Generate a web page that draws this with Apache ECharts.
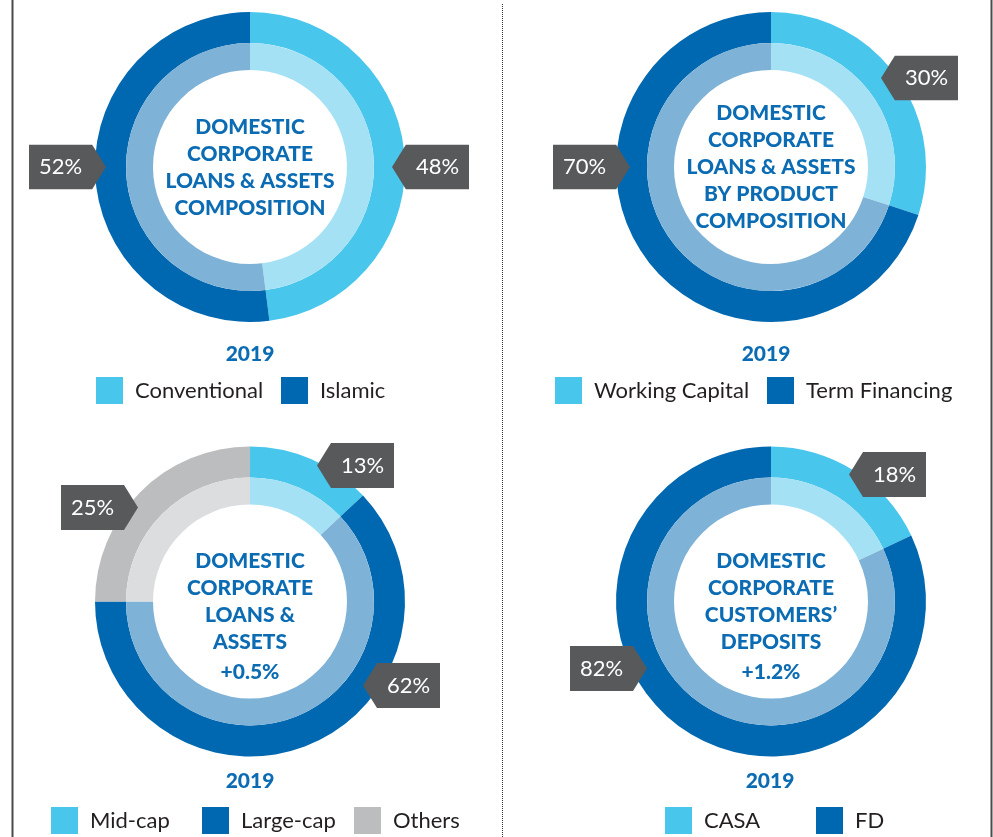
<!DOCTYPE html>
<html>
<head>
<meta charset="utf-8">
<script src="https://cdn.jsdelivr.net/npm/echarts@6/dist/echarts.min.js"></script>
<style>
  html, body { margin: 0; padding: 0; background: #ffffff; }
  #main { width: 993px; height: 837px; }
</style>
</head>
<body>
<div id="main"></div>
<script>
// ---- Data -------------------------------------------------------------
const compositionNames = ['Conventional', 'Islamic'];
const compositionValues = [48, 52];

const productNames = ['Working Capital', 'Term Financing'];
const productValues = [30, 70];

const segmentNames = ['Mid-cap', 'Large-cap', 'Others'];
const segmentValues = [13, 62, 25];

const depositNames = ['CASA', 'FD'];
const depositValues = [18, 82];

const yearLabel = '2019';
const centreTitles = [
  ['DOMESTIC', 'CORPORATE', 'LOANS & ASSETS', 'COMPOSITION'],
  ['DOMESTIC', 'CORPORATE', 'LOANS & ASSETS', 'BY PRODUCT', 'COMPOSITION'],
  ['DOMESTIC', 'CORPORATE', 'LOANS &', 'ASSETS'],
  ['DOMESTIC', 'CORPORATE', 'CUSTOMERS\u2019', 'DEPOSITS']
];
const growthLabels = [null, null, '+0.5%', '+1.2%'];

// ---- Styling ----------------------------------------------------------
const BLUE_TEXT = '#0b6cb4';
const PILL = '#58595b';
const FONT = 'Lato, "Open Sans", sans-serif';
const tones = {
  light: { outer: '#48c6ec', inner: '#a5e1f4' },
  dark:  { outer: '#0068b0', inner: '#7fb2d7' },
  grey:  { outer: '#bbbdbf', inner: '#dcdddf' }
};
const R_INNER = 97, R_MID = 124, R_OUTER = 155;

function pillImage(tipSide) {
  const pts = tipSide === 'left'
    ? '0,22.5 14,0 77,0 77,45 14,45'
    : '0,0 63,0 77,22.5 63,45 0,45';
  const svg = '<svg xmlns="http://www.w3.org/2000/svg" width="77" height="45" viewBox="0 0 77 45" preserveAspectRatio="none">' +
    '<polygon points="' + pts + '" fill="' + PILL + '"/></svg>';
  return 'data:image/svg+xml;charset=utf-8,' + encodeURIComponent(svg);
}
const pillLeft = pillImage('left');
const pillRight = pillImage('right');

// Panel layout: ring centre, slice tones, callout anchors (tip offset from centre), legend slots
const panels = [
  {
    cx: 250, cy: 167, names: compositionNames, values: compositionValues,
    tones: ['light', 'dark'],
    callouts: [{ dx: 142, dy: 0, tip: 'left' }, { dx: -144, dy: 0, tip: 'right' }],
    titleY: 168, growthY: null, yearX: 250, yearY: 354,
    legend: [[96, 377], [281, 377]]
  },
  {
    cx: 771, cy: 167, names: productNames, values: productValues,
    tones: ['light', 'dark'],
    callouts: [{ dx: 110, dy: -89, tip: 'left' }, { dx: -141, dy: 0, tip: 'right' }],
    titleY: 167, growthY: null, yearX: 766, yearY: 354,
    legend: [[555, 377], [767, 377]]
  },
  {
    cx: 250, cy: 601.5, names: segmentNames, values: segmentValues,
    tones: ['light', 'dark', 'grey'],
    callouts: [{ dx: 67, dy: -136, tip: 'left' }, { dx: 113, dy: 84, tip: 'left' }, { dx: -112, dy: -94, tip: 'right' }],
    titleY: 602, growthY: 672, yearX: 250, yearY: 781,
    legend: [[51, 807], [202, 807], [354, 807]]
  },
  {
    cx: 771, cy: 601.5, names: depositNames, values: depositValues,
    tones: ['light', 'dark'],
    callouts: [{ dx: 78, dy: -127, tip: 'left' }, { dx: -124, dy: 67, tip: 'right' }],
    titleY: 602, growthY: 672, yearX: 770, yearY: 781,
    legend: [[665, 807], [816, 807]]
  }
];

// ---- Build options ----------------------------------------------------
const series = [];
const legends = [];
const graphics = [];
const HEAD_FONT = '900 21px ' + FONT;

panels.forEach(function (p, pi) {
  const outerData = p.names.map(function (n, i) {
    const c = p.callouts[i];
    return {
      name: n, value: p.values[i],
      itemStyle: { color: tones[p.tones[i]].outer },
      label: {
        padding: c.tip === 'left' ? [0, 0, 0, 14] : [0, 14, 0, 0],
        backgroundColor: { image: c.tip === 'left' ? pillLeft : pillRight }
      }
    };
  });
  const innerData = p.names.map(function (n, i) {
    return { name: n, value: p.values[i], itemStyle: { color: tones[p.tones[i]].inner } };
  });

  series.push({
    type: 'pie', name: 'outer' + pi,
    center: [p.cx, p.cy], radius: [R_MID, R_OUTER],
    startAngle: 90, clockwise: true,
    avoidLabelOverlap: false, silent: true,
    emphasis: { disabled: true },
    itemStyle: { borderWidth: 0 },
    labelLine: { show: false },
    label: {
      show: true,
      formatter: function (prm) { return '{t|' + prm.value + '%}'; },
      rich: {
        t: { width: 63, height: 45, lineHeight: 45, align: 'center', verticalAlign: 'middle',
             color: '#ffffff', fontSize: 22, fontFamily: FONT }
      }
    },
    labelLayout: function (prm) {
      const c = p.callouts[prm.dataIndex];
      return {
        x: p.cx + c.dx, y: p.cy + c.dy,
        align: c.tip === 'left' ? 'left' : 'right',
        verticalAlign: 'middle'
      };
    },
    data: outerData,
    z: 2
  });
  series.push({
    type: 'pie', name: 'inner' + pi,
    center: [p.cx, p.cy], radius: [R_INNER, R_MID],
    startAngle: 90, clockwise: true, silent: true,
    emphasis: { disabled: true },
    itemStyle: { borderWidth: 0 },
    label: { show: false }, labelLine: { show: false },
    data: innerData,
    z: 2
  });

  p.names.forEach(function (n, i) {
    legends.push({
      left: p.legend[i][0], top: p.legend[i][1], padding: 0,
      data: [n], icon: 'rect', itemWidth: 27, itemHeight: 27,
      selectedMode: false,
      itemStyle: { borderWidth: 0 },
      textStyle: { fontSize: 22, fontFamily: FONT, color: '#231f20', padding: [2, 0, 0, 7] }
    });
  });

  graphics.push({
    type: 'text', x: p.cx, y: p.titleY, silent: true,
    style: {
      text: centreTitles[pi].join('\n'), align: 'center', verticalAlign: 'middle',
      font: HEAD_FONT, lineHeight: 27, fill: BLUE_TEXT
    }
  });
  if (growthLabels[pi]) {
    graphics.push({
      type: 'text', x: p.cx, y: p.growthY, silent: true,
      style: { text: growthLabels[pi], align: 'center', verticalAlign: 'middle',
               font: HEAD_FONT, fill: BLUE_TEXT }
    });
  }
  graphics.push({
    type: 'text', x: p.yearX, y: p.yearY, silent: true,
    style: { text: yearLabel, align: 'center', verticalAlign: 'middle',
             font: HEAD_FONT, fill: BLUE_TEXT }
  });
});

// frame rules and the dotted centre divider
graphics.push(
  { type: 'line', silent: true, shape: { x1: 12.5, y1: 0, x2: 12.5, y2: 837 },
    style: { stroke: '#4a4a4a', lineWidth: 2 } },
  { type: 'line', silent: true, shape: { x1: 991.5, y1: 0, x2: 991.5, y2: 837 },
    style: { stroke: '#4a4a4a', lineWidth: 2 } },
  { type: 'line', silent: true, shape: { x1: 502.5, y1: 4, x2: 502.5, y2: 837 },
    style: { stroke: '#333333', lineWidth: 1, lineDash: [1, 1] } }
);

const chart = echarts.init(document.getElementById('main'), null, { renderer: 'canvas' });
chart.setOption({
  animation: false,
  backgroundColor: '#ffffff',
  legend: legends,
  series: series,
  graphic: graphics
});
</script>
</body>
</html>
